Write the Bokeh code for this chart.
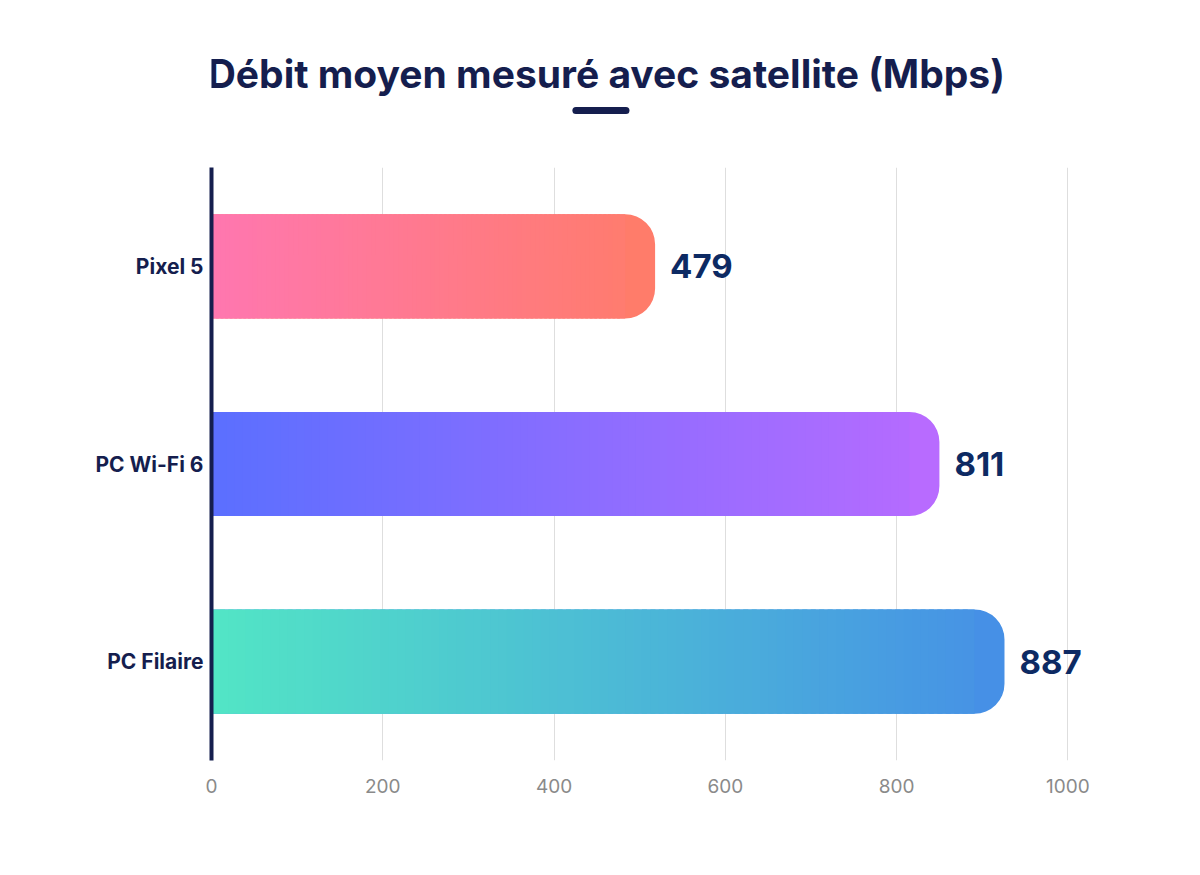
from bokeh.plotting import figure
from bokeh.layouts import column
from bokeh.models import FactorRange, Range1d, ColumnDataSource
from bokeh.embed import file_html
from bokeh.resources import INLINE
from bokeh.core.properties import value

# ---- data ----
categories = ["Pixel 5", "PC Wi-Fi 6", "PC Filaire"]
values = [479, 811, 887]
x_ticks = [0, 200, 400, 600, 800, 1000]
title_text = "Débit moyen mesuré avec satellite (Mbps)"

# ---- style ----
grad_start = ["#ff77b0", "#5b6fff", "#52e5c5"]
grad_end = ["#ff7c6a", "#b86bff", "#4690e6"]
NAVY = "#151e4e"
VALUE_COLOR = "#0d2a63"
CAP = 39          # rounded end of each bar, data units
RADIUS = 30       # px
BAR_H = 0.527
N_SLICES = 90
FONT = "Inter"
W = 1184
TOP_H = 167
MAIN_H = 692
LEFT = 211
RIGHT = W - 211 - 942
X_MAX = 1100


def hex2rgb(h):
    h = h.lstrip("#")
    return tuple(int(h[i:i + 2], 16) for i in (0, 2, 4))


def mix(c1, c2, t):
    a, b = hex2rgb(c1), hex2rgb(c2)
    return "#%02x%02x%02x" % tuple(int(round(a[i] + (b[i] - a[i]) * t)) for i in range(3))


# ---- title strip (same frame as the main chart) ----
t = figure(width=W, height=TOP_H, output_backend="svg", toolbar_location=None,
           x_range=Range1d(0, X_MAX), y_range=Range1d(0, TOP_H),
           min_border_left=LEFT, min_border_right=RIGHT, min_border_top=0, min_border_bottom=0)
t.axis.visible = False
t.grid.visible = False
t.outline_line_color = None
t.text(x=[461], y=[TOP_H - 73], text=[title_text], text_align="center", text_baseline="middle",
       text_font=value(FONT), text_font_style="bold", text_font_size="39px", text_color=NAVY)
t.line(x=[425.5, 484], y=[TOP_H - 110, TOP_H - 110], line_width=7, line_cap="round", line_color=NAVY)

# ---- main chart ----
p = figure(width=W, height=MAIN_H, output_backend="svg", toolbar_location=None,
           y_range=FactorRange(factors=categories[::-1], range_padding=0),
           x_range=Range1d(0, X_MAX),
           min_border_left=LEFT, min_border_right=RIGHT, min_border_top=0,
           min_border_bottom=MAIN_H - 593)
p.outline_line_color = None

p.ygrid.visible = False
p.xgrid.ticker = x_ticks
p.xgrid.grid_line_color = "#dedede"
p.xgrid.grid_line_width = 1

p.xaxis.ticker = x_ticks
p.xaxis.axis_line_color = None
p.xaxis.major_tick_line_color = None
p.xaxis.minor_tick_line_color = None
p.xaxis.major_label_text_font = FONT
p.xaxis.major_label_text_font_size = "19px"
p.xaxis.major_label_text_color = "#8a8a8a"
p.xaxis.major_label_standoff = 12

p.yaxis.axis_line_color = NAVY
p.yaxis.axis_line_width = 4
p.yaxis.major_tick_line_color = None
p.yaxis.minor_tick_line_color = None
p.yaxis.major_label_text_font = FONT
p.yaxis.major_label_text_font_style = "bold"
p.yaxis.major_label_text_font_size = "21px"
p.yaxis.major_label_text_color = NAVY
p.yaxis.major_label_standoff = 2

for i, (cat, v) in enumerate(zip(categories, values)):
    end = v + CAP
    # full bar with rounded right end, in the end colour
    p.hbar(y=[cat], left=[0], right=[end], height=BAR_H, fill_color=grad_end[i],
           line_color=None, border_radius=(0, RADIUS, RADIUS, 0))
    # gradient slices over the straight part (each overlaps the next)
    step = v / N_SLICES
    lefts = [step * k for k in range(N_SLICES)]
    rights = [l + 1.6 * step for l in lefts]
    rights[-1] = v + 4
    cols = [mix(grad_start[i], grad_end[i], (l + step / 2) / end) for l in lefts]
    src = ColumnDataSource(dict(y=[cat] * N_SLICES, left=lefts, right=rights, c=cols))
    p.hbar(y="y", left="left", right="right", height=BAR_H, fill_color="c", line_color=None, source=src)

lab = ColumnDataSource(dict(x=[v + CAP for v in values], y=categories, t=[str(v) for v in values]))
p.text(x="x", y="y", text="t", source=lab, x_offset=15, text_baseline="middle",
       text_font=value(FONT), text_font_style="bold", text_font_size="33px", text_color=VALUE_COLOR)

layout = column(t, p, spacing=0)
open("out.html", "w").write(file_html(layout, INLINE))
